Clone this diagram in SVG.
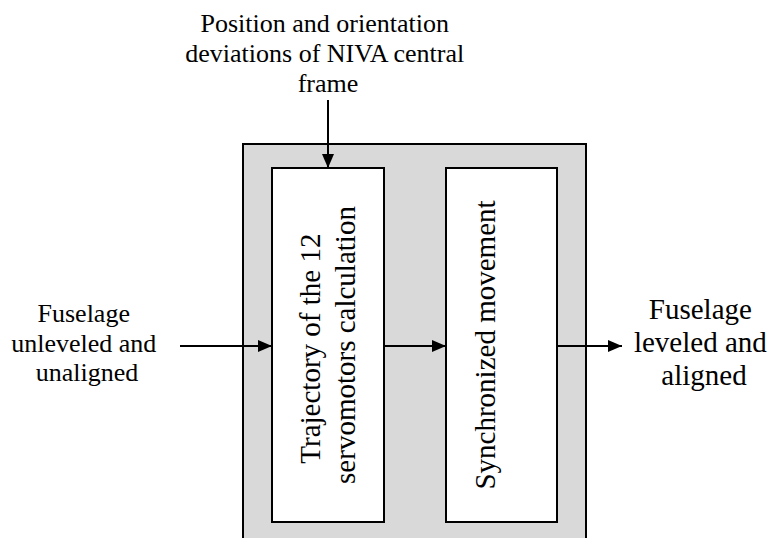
<svg xmlns="http://www.w3.org/2000/svg" width="774" height="538" viewBox="0 0 774 538">
  <style>
    text { font-family: 'Liberation Serif', serif; fill: #000; }
    .box { fill: #fff; stroke: #000; stroke-width: 2; }
    .line { stroke: #000; stroke-width: 2; fill: none; }
  </style>
  <defs>
    <marker id="arr" markerWidth="14" markerHeight="12" refX="14" refY="6" orient="auto" markerUnits="userSpaceOnUse">
      <path d="M0,0 L14,6 L0,12 Z" fill="#000"/>
    </marker>
  </defs>
  <rect width="774" height="538" fill="#fff"/>

  <g id="container">
    <rect x="243" y="144" width="343" height="400" fill="#d9d9d9" stroke="#000" stroke-width="2"/>
  </g>

  <g id="input-top">
    <text font-size="26" text-anchor="middle">
      <tspan x="328" y="32">Position and orientation</tspan>
      <tspan x="328" y="62">deviations of NIVA central</tspan>
      <tspan x="328" y="92">frame</tspan>
    </text>
  </g>

  <g id="input-left">
    <text font-size="26" text-anchor="middle">
      <tspan x="87" y="322">Fuselage</tspan>
      <tspan x="87" y="352">unleveled and</tspan>
      <tspan x="87" y="381">unaligned</tspan>
    </text>
  </g>

  <g id="output-right">
    <text font-size="29" text-anchor="middle">
      <tspan x="704" y="319">Fuselage</tspan>
      <tspan x="704" y="352">leveled and</tspan>
      <tspan x="704" y="385">aligned</tspan>
    </text>
  </g>

  <g id="trajectory">
    <rect class="box" x="272" y="168" width="112" height="354"/>
    <text font-size="29" text-anchor="middle" transform="translate(320,345) rotate(-90)">
      <tspan x="0" y="0">Trajectory of the 12</tspan>
      <tspan x="0" y="35">servomotors calculation</tspan>
    </text>
  </g>

  <g id="synchronized">
    <rect class="box" x="446" y="168" width="111" height="354"/>
    <text font-size="29" text-anchor="middle" transform="translate(495,345) rotate(-90)">Synchronized movement</text>
  </g>

  <g id="connectors">
    <line class="line" x1="328" y1="100" x2="328" y2="168" marker-end="url(#arr)"/>
    <line class="line" x1="180" y1="346" x2="272" y2="346" marker-end="url(#arr)"/>
    <line class="line" x1="384" y1="346" x2="446" y2="346" marker-end="url(#arr)"/>
    <line class="line" x1="557" y1="346" x2="622" y2="346" marker-end="url(#arr)"/>
  </g>
</svg>
